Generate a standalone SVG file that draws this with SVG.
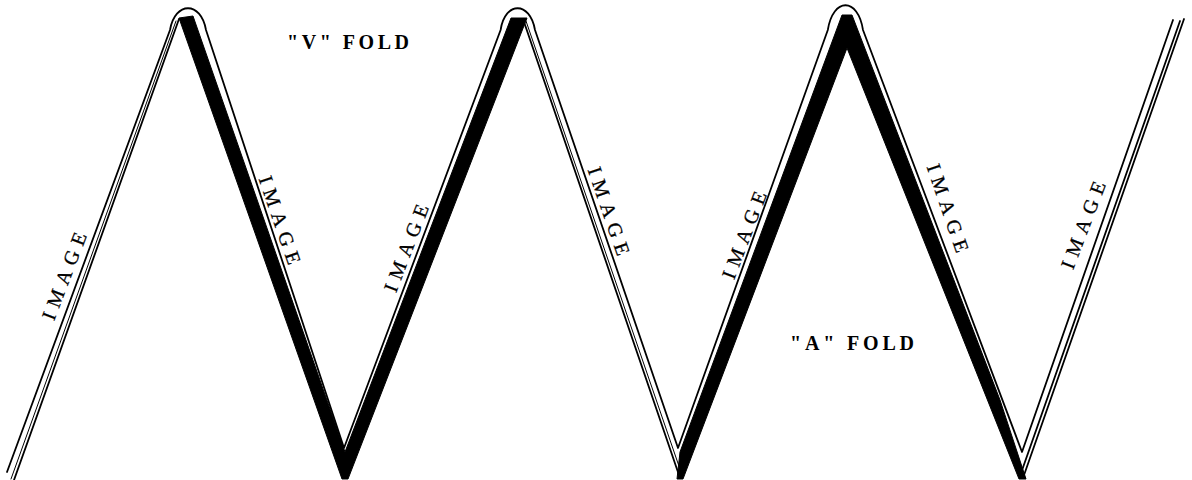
<svg xmlns="http://www.w3.org/2000/svg" width="1192" height="480" viewBox="0 0 1192 480">
<style>
.ln{fill:none;stroke:#000;stroke-width:1.8;stroke-linejoin:round;stroke-linecap:round}
.thin{fill:none;stroke:#000;stroke-width:1;stroke-linecap:round}
.blk{fill:#000;stroke:#000;stroke-width:1;stroke-linejoin:miter}
.img{font-family:"Liberation Serif",serif;font-size:20px;fill:#000;text-anchor:middle;dominant-baseline:central;stroke:#000;stroke-width:0.3}
.fold{font-family:"Liberation Serif",serif;font-size:20px;font-weight:bold;fill:#000}
</style>
<rect width="1192" height="480" fill="#fff"/>
<g id="strip">
  <g id="black-faces">
    <polygon class="blk" points="179,18 193,16 345,452 511,18 527,18 348,479 342,479"/>
    <polygon class="blk" points="680,452 842,15 852,15 1000,400 1026,479 1019,479 847,48 683,479 677,479"/>
  </g>
  <g id="outline">
    <path class="ln" d="M7,472 L170,30 C175,1 201,1 206,30 L344,448 L500.6,30 C505,1 530,1 535,30 L678,448 L827.8,30 C833,-3 858,-3 863,30 L1022,452 L1173,20"/>
  </g>
  <g id="edges">
    <line class="ln" x1="14" y1="480" x2="179" y2="19"/>
    <line class="thin" x1="11" y1="479" x2="176" y2="21"/>
    <line class="ln" x1="523" y1="19" x2="680" y2="478"/>
    <line class="thin" x1="526" y1="21" x2="682" y2="475"/>
    <line class="ln" x1="1023" y1="478" x2="1184" y2="19"/>
    <line class="ln" x1="1020" y1="476" x2="1180" y2="21"/>
  </g>
</g>
<g id="labels">
  <text class="fold" x="287" y="49" textLength="122" lengthAdjust="spacing">"V" FOLD</text>
  <text class="fold" x="790" y="350" textLength="124" lengthAdjust="spacing">"A" FOLD</text>
  <text class="img" transform="translate(64,276) rotate(-69)" textLength="92" lengthAdjust="spacing">IMAGE</text>
  <text class="img" transform="translate(280,220) rotate(71)" textLength="92" lengthAdjust="spacing">IMAGE</text>
  <text class="img" transform="translate(406,248) rotate(-69)" textLength="92" lengthAdjust="spacing">IMAGE</text>
  <text class="img" transform="translate(609,211) rotate(71)" textLength="92" lengthAdjust="spacing">IMAGE</text>
  <text class="img" transform="translate(744,235) rotate(-69)" textLength="92" lengthAdjust="spacing">IMAGE</text>
  <text class="img" transform="translate(948,208) rotate(71)" textLength="92" lengthAdjust="spacing">IMAGE</text>
  <text class="img" transform="translate(1083,225) rotate(-69)" textLength="92" lengthAdjust="spacing">IMAGE</text>
</g>
</svg>
